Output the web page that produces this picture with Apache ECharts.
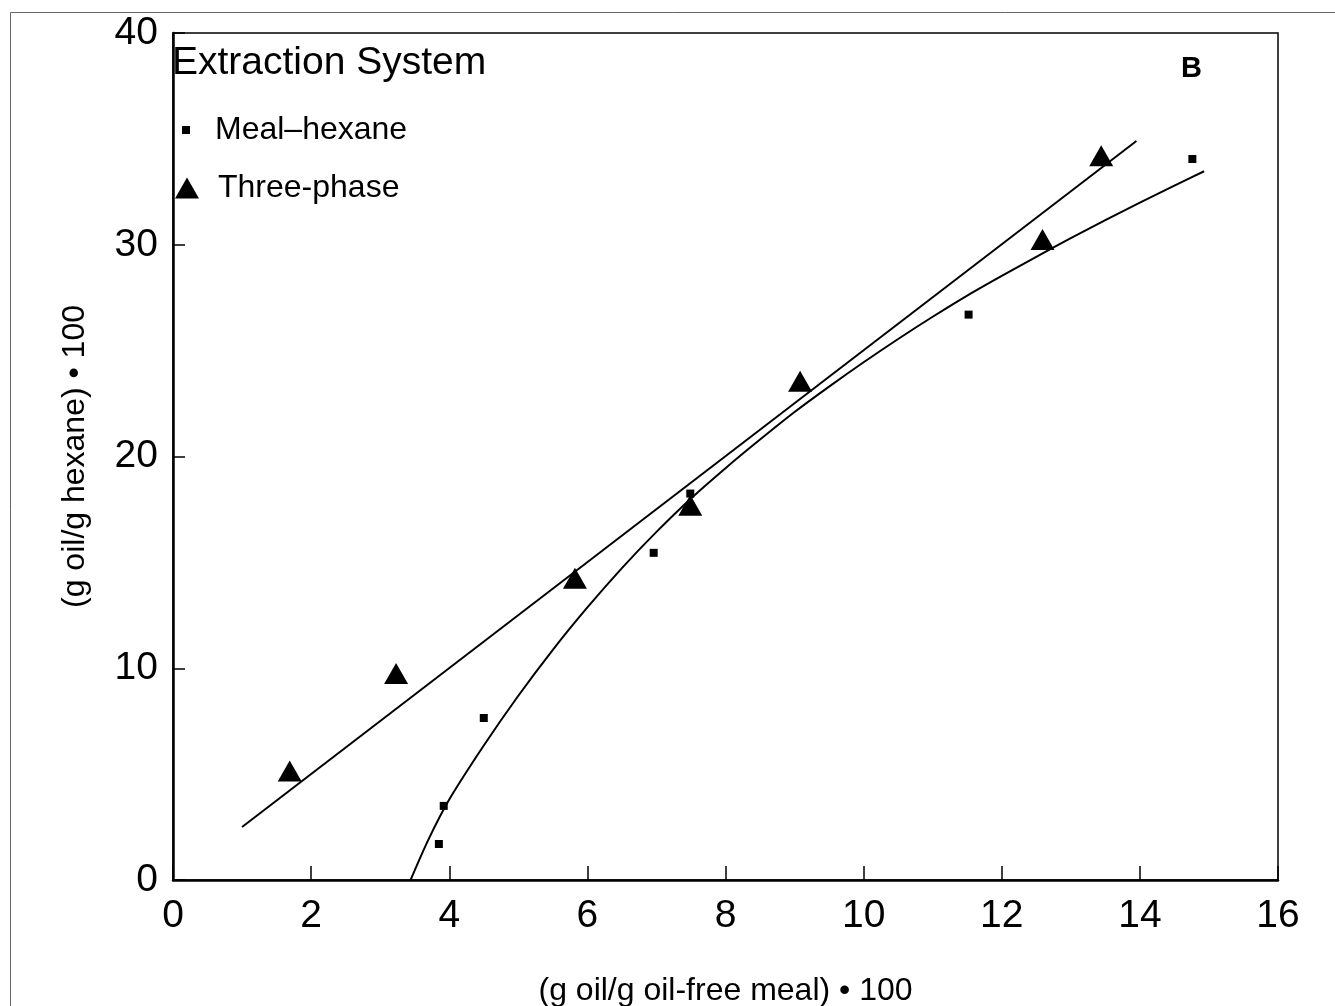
<!DOCTYPE html>
<html>
<head>
<meta charset="utf-8">
<script src="https://cdn.jsdelivr.net/npm/echarts@6/dist/echarts.min.js"></script>
<style>
    html, body { margin: 0; padding: 0; background: #fff; }
    #chart { width: 1335px; height: 1006px; }
</style>
</head>
<body>
<div id="chart"></div>
<script>
const mealX = [3.85, 3.92, 4.5, 6.96, 7.49, 11.52, 14.76];
const mealY = [1.7, 3.5, 7.65, 15.45, 18.25, 26.7, 34.05];

const threeX = [1.69, 3.23, 5.82, 7.49, 9.08, 12.59, 13.44];
const threeY = [5.15, 9.75, 14.25, 17.7, 23.55, 30.25, 34.2];

// fitted curve through meal-hexane data
const curveX = [3.44, 3.7, 4.0, 4.5, 5.0, 5.5, 6.0, 6.5, 7.0, 7.5, 8.0, 8.5, 9.0, 9.5, 10.0, 10.5, 11.0, 11.5, 12.0, 12.5, 13.0, 13.5, 14.0, 14.5, 14.93];
const curveY = [0, 1.92, 3.8, 6.35, 8.7, 10.87, 12.87, 14.73, 16.44, 18.02, 19.45, 20.8, 22.1, 23.3, 24.45, 25.55, 26.6, 27.6, 28.53, 29.43, 30.31, 31.16, 31.99, 32.79, 33.47];

// straight fit line through three-phase data
const lineX = [1.0, 13.95];
const lineY = [2.5, 34.9];

const xTicks = [0, 2, 4, 6, 8, 10, 12, 14, 16];
const yTicks = [0, 10, 20, 30, 40];

function pairs(xs, ys) {
    return xs.map((x, i) => [x, ys[i]]);
}

const font = "'Liberation Sans', Arial, sans-serif";
const chart = echarts.init(document.getElementById('chart'));

const option = {
    backgroundColor: '#fff',
    animation: false,
    textStyle: { fontFamily: font, color: '#000' },
    grid: {
        left: 173, right: 57, top: 33, bottom: 126,
        outerBoundsMode: 'none',
        show: true, borderColor: '#000', borderWidth: 1.5
    },
    title: [
        {
            text: 'Extraction System', left: 172, top: 44, padding: 0,
            textStyle: { fontFamily: font, fontSize: 39, fontWeight: 'normal', color: '#000' }
        },
        {
            text: 'B', left: 1181, top: 54, padding: 0,
            textStyle: { fontFamily: font, fontSize: 29, fontWeight: 'bold', color: '#000' }
        }
    ],
    legend: [
        {
            data: ['Meal–hexane'], orient: 'vertical', left: 182, top: 114, padding: 0,
            icon: 'rect', itemWidth: 8, itemHeight: 8, selectedMode: false,
            itemStyle: { opacity: 1 },
            textStyle: { fontFamily: font, fontSize: 32, color: '#000', padding: [0, 0, 0, 20] }
        },
        {
            data: ['Three-phase'], orient: 'vertical', left: 175, top: 172, padding: 0,
            icon: 'triangle', itemWidth: 24, itemHeight: 21, selectedMode: false,
            itemStyle: { opacity: 1 },
            textStyle: { fontFamily: font, fontSize: 32, color: '#000', padding: [0, 0, 0, 14] }
        }
    ],
    xAxis: {
        type: 'value', min: 0, max: 16, interval: 2,
        name: '(g oil/g oil-free meal) • 100',
        nameLocation: 'middle', nameGap: 95,
        nameTextStyle: { fontFamily: font, fontSize: 32, color: '#000' },
        axisLine: { show: true, lineStyle: { color: '#000', width: 2.5 } },
        axisTick: { show: true, inside: true, length: 14, lineStyle: { color: '#000', width: 1.5 } },
        axisLabel: {
            fontFamily: font, fontSize: 39, color: '#000', margin: 17,
            customValues: xTicks
        },
        splitLine: { show: false }
    },
    yAxis: {
        type: 'value', min: 0, max: 40, interval: 10,
        name: '(g oil/g hexane) • 100',
        nameLocation: 'middle', nameGap: 82,
        nameTextStyle: { fontFamily: font, fontSize: 32, color: '#000' },
        axisLine: { show: true, lineStyle: { color: '#000', width: 2.5 } },
        axisTick: { show: true, inside: true, length: 12, lineStyle: { color: '#000', width: 1.5 } },
        axisLabel: {
            fontFamily: font, fontSize: 39, color: '#000', margin: 15,
            customValues: yTicks
        },
        splitLine: { show: false }
    },
    graphic: [
        {
            type: 'rect', silent: true, z: -1,
            shape: { x: 10.5, y: 12.5, width: 1340, height: 1010 },
            style: { fill: null, stroke: '#666', lineWidth: 1 }
        }
    ],
    series: [
        {
            name: 'curve fit', type: 'line', data: pairs(curveX, curveY),
            showSymbol: false, smooth: 0.3,
            lineStyle: { color: '#000', width: 2 }
        },
        {
            name: 'line fit', type: 'line', data: pairs(lineX, lineY),
            showSymbol: false,
            lineStyle: { color: '#000', width: 2 }
        },
        {
            name: 'Meal–hexane', type: 'scatter', data: pairs(mealX, mealY),
            symbol: 'rect', symbolSize: 8,
            itemStyle: { color: '#000', opacity: 1 }
        },
        {
            name: 'Three-phase', type: 'scatter', data: pairs(threeX, threeY),
            symbol: 'triangle', symbolSize: [24, 21],
            itemStyle: { color: '#000', opacity: 1 }
        }
    ]
};

chart.setOption(option);
</script>
</body>
</html>
